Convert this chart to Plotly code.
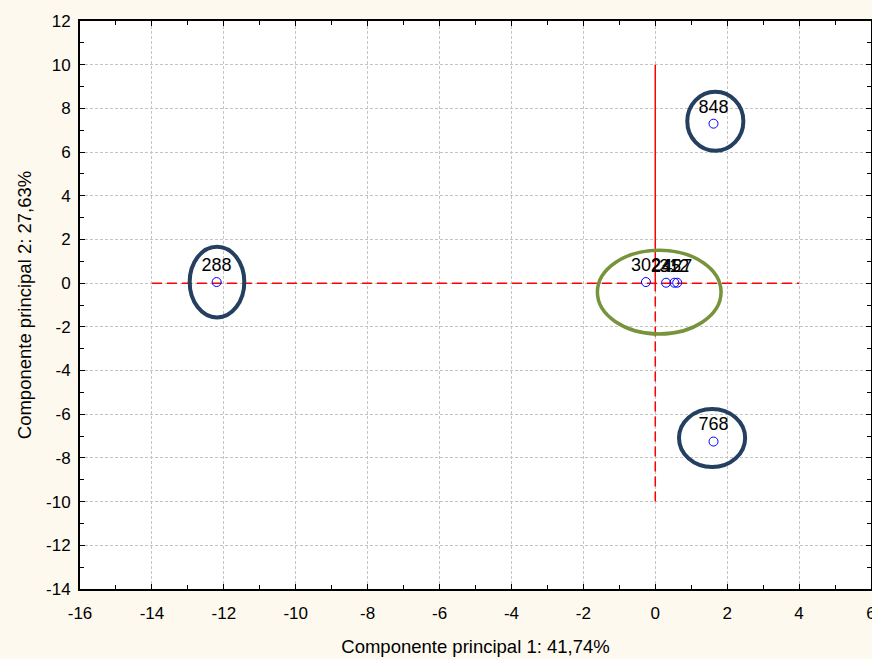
import plotly.graph_objects as go

# Data: PCA scores (component 1, component 2)
labels = ["288", "848", "768", "302", "245", "312", "427"]
pc1 = [-12.2, 1.62, 1.62, -0.26, 0.30, 0.53, 0.61]
pc2 = [0.05, 7.3, -7.25, 0.05, 0.02, 0.02, 0.02]

x_ticks = [-16, -14, -12, -10, -8, -6, -4, -2, 0, 2, 4, 6]
y_ticks = [-14, -12, -10, -8, -6, -4, -2, 0, 2, 4, 6, 8, 10, 12]

# Highlight ellipses: (cx, cy, rx, ry, color, width)
ellipse_cx = [-12.19, 1.67, 1.58, 0.11]
ellipse_cy = [0.05, 7.41, -7.09, -0.41]
ellipse_rx = [0.76, 0.78, 0.92, 1.72]
ellipse_ry = [1.62, 1.35, 1.33, 1.92]
ellipse_col = ["#243F5F", "#243F5F", "#243F5F", "#77933C"]
ellipse_w = [4, 4, 4, 3.5]

FONT = "Liberation Sans, Arial"

fig = go.Figure()

# Reference axes (red)
fig.add_trace(go.Scatter(x=[-14, 4], y=[0, 0], mode="lines",
                         line=dict(color="#FF0000", width=1.5, dash="10px,5px"),
                         hoverinfo="skip", showlegend=False))
fig.add_trace(go.Scatter(x=[0, 0], y=[0, 10], mode="lines",
                         line=dict(color="#FF0000", width=1.5),
                         hoverinfo="skip", showlegend=False))
fig.add_trace(go.Scatter(x=[0, 0], y=[-10, 0], mode="lines",
                         line=dict(color="#FF0000", width=1.5, dash="10px,5px"),
                         hoverinfo="skip", showlegend=False))

fig.add_trace(go.Scatter(
    x=pc1, y=pc2, mode="markers+text", text=labels,
    textposition="top center",
    textfont=dict(family=FONT, size=18, color="black"),
    marker=dict(symbol="circle-open", size=9, color="#0000FF", line=dict(width=1)),
    showlegend=False))

for cx, cy, rx, ry, c, w in zip(ellipse_cx, ellipse_cy, ellipse_rx, ellipse_ry, ellipse_col, ellipse_w):
    fig.add_shape(type="circle", xref="x", yref="y",
                  x0=cx - rx, x1=cx + rx, y0=cy - ry, y1=cy + ry,
                  line=dict(color=c, width=w))

axis_common = dict(
    showline=True, linecolor="black", linewidth=2, mirror="ticks",
    ticks="inside", ticklen=5, tickcolor="black",
    showgrid=True, gridcolor="#C4C4C4", griddash="3px,2px", gridwidth=1,
    zeroline=False, automargin=False, ticklabeloverflow="allow",
    tickfont=dict(family=FONT, size=17, color="black"),
    minor=dict(ticks="inside", ticklen=4, tickcolor="black", dtick=1, showgrid=False),
)

fig.update_xaxes(range=[-16, 6], tickvals=x_ticks, ticktext=[str(v) for v in x_ticks],
                 ticklabelstandoff=8,
                 title=dict(text="Componente principal 1: 41,74%",
                            font=dict(family=FONT, size=18.5, color="black"),
                            standoff=18),
                 **axis_common)
fig.update_yaxes(range=[-14, 12], tickvals=y_ticks, ticktext=[str(v) for v in y_ticks],
                 ticklabelstandoff=4,
                 title=dict(text="Componente principal 2: 27,63%",
                            font=dict(family=FONT, size=18.5, color="black"),
                            standoff=10),
                 **axis_common)

fig.update_layout(
    width=872, height=659,
    margin=dict(l=80, r=1, t=21, b=70),
    paper_bgcolor="#FEF9EE", plot_bgcolor="white",
    showlegend=False,
)

fig.write_html("out.html", config={"displayModeBar": False},
               post_script="document.body.style.margin='0';")
